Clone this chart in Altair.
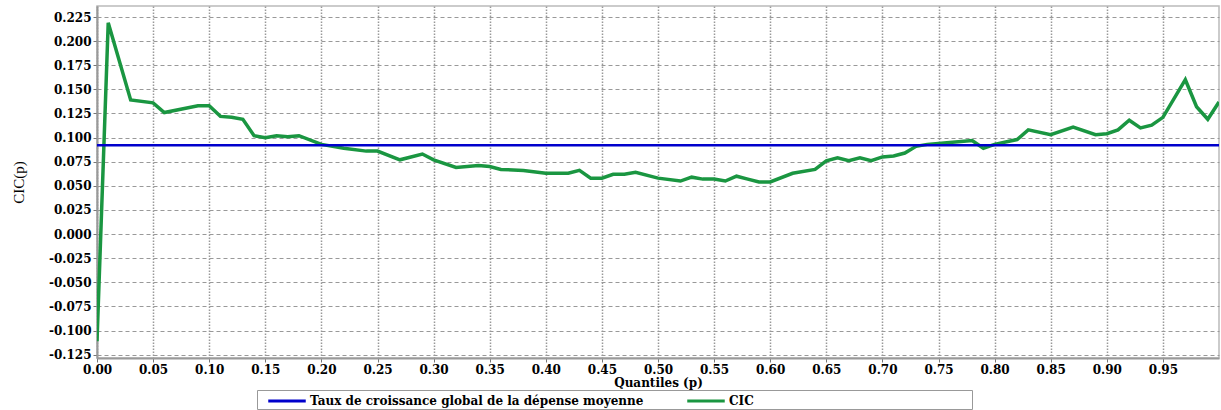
import altair as alt
import pandas as pd

# Quantiles p and CIC values
p_vals = [0.00, 0.01, 0.03, 0.05, 0.06, 0.09, 0.10, 0.11, 0.12, 0.13, 0.14, 0.15, 0.16, 0.17, 0.18,
          0.20, 0.22, 0.24, 0.25, 0.27, 0.29, 0.30, 0.32, 0.34, 0.35, 0.36, 0.38, 0.40, 0.42, 0.43,
          0.44, 0.45, 0.46, 0.47, 0.48, 0.50, 0.52, 0.53, 0.54, 0.55, 0.56, 0.57, 0.58, 0.59, 0.60,
          0.62, 0.64, 0.65, 0.66, 0.67, 0.68, 0.69, 0.70, 0.71, 0.72, 0.73, 0.74, 0.76, 0.78, 0.79,
          0.80, 0.82, 0.83, 0.85, 0.87, 0.89, 0.90, 0.91, 0.92, 0.93, 0.94, 0.95, 0.97, 0.98, 0.99, 1.00]
cic_vals = [-0.111, 0.219, 0.139, 0.136, 0.126, 0.133, 0.133, 0.122, 0.121, 0.119, 0.102, 0.100, 0.102, 0.101, 0.102,
            0.093, 0.089, 0.086, 0.086, 0.077, 0.083, 0.077, 0.069, 0.071, 0.070, 0.067, 0.066, 0.063, 0.063, 0.066,
            0.058, 0.058, 0.062, 0.062, 0.064, 0.058, 0.055, 0.059, 0.057, 0.057, 0.055, 0.060, 0.057, 0.054, 0.054,
            0.063, 0.067, 0.076, 0.079, 0.076, 0.079, 0.076, 0.080, 0.081, 0.084, 0.091, 0.093, 0.095, 0.097, 0.089,
            0.093, 0.098, 0.108, 0.103, 0.111, 0.103, 0.104, 0.108, 0.118, 0.110, 0.113, 0.121, 0.160, 0.132, 0.119, 0.137]
global_rate = 0.092

series_names = ["Taux de croissance global de la dépense moyenne", "CIC"]
series_colors = ["#0000cc", "#1a9641"]

x_ticks = [0.00, 0.05, 0.10, 0.15, 0.20, 0.25, 0.30, 0.35, 0.40, 0.45,
           0.50, 0.55, 0.60, 0.65, 0.70, 0.75, 0.80, 0.85, 0.90, 0.95]
y_ticks = [-0.125, -0.100, -0.075, -0.050, -0.025, 0.000, 0.025, 0.050, 0.075,
           0.100, 0.125, 0.150, 0.175, 0.200, 0.225]

df_cic = pd.DataFrame({"p": p_vals, "v": cic_vals, "s": series_names[1]})
df_glob = pd.DataFrame({"p": p_vals, "v": [global_rate] * len(p_vals), "s": series_names[0]})

# invisible filler so the legend frame stretches like in the reference
pad_blank = "\u2800" * 23
color = alt.Color("s:N", scale=alt.Scale(domain=series_names, range=series_colors),
                  legend=alt.Legend(
                      title=None, orient="none", legendX=160, legendY=384,
                      direction="horizontal", columns=2,
                      symbolType="M-2.5,0H2.5", symbolSize=225, symbolStrokeWidth=3,
                      symbolOffset=19, labelOffset=14,
                      labelFont="DejaVu Serif", labelFontWeight="bold", labelFontSize=12,
                      labelColor="#000", columnPadding=34,
                      labelLimit=0,
                      labelExpr="datum.label == 'CIC' ? 'CIC' + '" + pad_blank + "' : datum.label",
                      strokeColor="#999", fillColor="white", padding=2))

x_enc = alt.X("p:Q", scale=alt.Scale(domain=[0, 1.0], nice=False, zero=False),
              axis=alt.Axis(values=x_ticks, format=".2f", title="Quantiles (p)",
                            labelFont="DejaVu Serif", labelFontWeight="bold", labelFontSize=12,
                            labelColor="#000", titleFont="DejaVu Serif", titleFontWeight="bold",
                            titleFontSize=12, titleColor="#000", titlePadding=2,
                            gridDash=[1.5, 1.5], gridWidth=1.5, gridColor="#999",
                            domainColor="#999", domainWidth=2, tickColor="#777",
                            tickSize=4, labelPadding=2, labelFlush=False))
y_enc = alt.Y("v:Q", scale=alt.Scale(domain=[-0.1284, 0.2364], nice=False, zero=False),
              axis=alt.Axis(values=y_ticks,
                            labelExpr="(datum.value < -0.00001 ? '-' : '') + format(abs(datum.value), '.3f')",
                            title="CIC(p)", titleFont="Liberation Serif", titleFontWeight="normal",
                            titleFontSize=15, titleColor="#000", titlePadding=22,
                            labelFont="DejaVu Serif", labelFontWeight="bold", labelFontSize=12,
                            labelColor="#000", gridDash=[4, 3], gridColor="#999", gridWidth=1,
                            domainColor="#999", domainWidth=2, tickColor="#777",
                            tickSize=4, labelPadding=2))

line_cic = alt.Chart(df_cic).mark_line(strokeWidth=3.5, clip=True).encode(
    x=x_enc, y=y_enc, color=color)
line_glob = alt.Chart(df_glob).mark_line(strokeWidth=2.5, clip=True).encode(
    x=x_enc, y=y_enc, color=color)

chart = alt.layer(line_cic, line_glob).properties(
    width=1122, height=352,
    autosize=alt.AutoSizeParams(type="none"),
    padding={"left": 97, "top": 6, "right": 2, "bottom": 52},
    background="white",
).configure_view(stroke="#bbb", strokeWidth=1.5)

chart.save("out.html", embed_options={"renderer": "svg", "actions": False})
